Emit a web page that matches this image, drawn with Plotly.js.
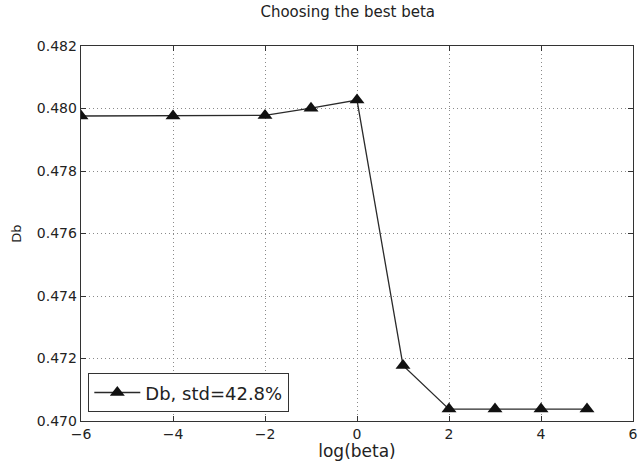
<!DOCTYPE html>
<html><head><meta charset="utf-8">
<script src="https://cdn.plot.ly/plotly-3.0.1.min.js"></script>
<style>html,body{margin:0;padding:0;background:#fff;}</style>
</head><body>
<div id="chart" style="width:638px;height:461px;"></div>
<script>
const logBeta = [-6, -4, -2, -1, 0, 1, 2, 3, 4, 5];
const dbValues = [0.47976, 0.47976, 0.47978, 0.48001, 0.48027, 0.47178, 0.47038, 0.47038, 0.47038, 0.47038];
const seriesName = 'Db, std=42.8%';
const xTicks = [-6, -4, -2, 0, 2, 4, 6];
const yTicks = [0.470, 0.472, 0.474, 0.476, 0.478, 0.480, 0.482];

const trace = {
  x: logBeta, y: dbValues, type: 'scatter', mode: 'lines+markers', name: seriesName,
  line: {color: '#2a2a2a', width: 1.3},
  marker: {symbol: 'triangle-up', size: 13, color: '#111'}
};
const fam = 'DejaVu Sans, sans-serif';
const axisCommon = {
  showline: true, linecolor: '#333', linewidth: 1.3, mirror: 'ticks',
  ticks: 'inside', ticklen: 5, tickcolor: '#333',
  showgrid: true, gridcolor: '#8a8a8a', griddash: '1px,3px', gridwidth: 1,
  zeroline: false, tickfont: {family: fam, size: 14, color: '#222'}
};
const layout = {
  width: 638, height: 461,
  margin: {l: 81, r: 5, t: 46, b: 40},
  paper_bgcolor: '#fff', plot_bgcolor: '#fff',
  font: {family: fam, color: '#222'},
  title: {text: 'Choosing the best beta', font: {family: fam, size: 15, color: '#222'},
    x: 0.545, xanchor: 'center', y: 0.985, yanchor: 'top'},
  xaxis: Object.assign({}, axisCommon, {
    range: [-6, 6], tickvals: xTicks, ticktext: xTicks.map(v => v < 0 ? '\u2212' + Math.abs(v) : String(v)),
    title: {text: 'log(beta)', font: {family: fam, size: 17, color: '#222'}, standoff: 2}
  }),
  yaxis: Object.assign({}, axisCommon, {
    range: [0.470, 0.482], tickvals: yTicks, ticktext: yTicks.map(v => v.toFixed(3)),
    title: {text: 'Db', font: {family: fam, size: 13, color: '#222'}, standoff: 12}
  }),
  showlegend: true,
  legend: {x: 0.0127, y: 0.024, xanchor: 'left', yanchor: 'bottom', bgcolor: '#fff',
    bordercolor: '#333', borderwidth: 1.3, itemwidth: 46,
    font: {family: fam, size: 18, color: '#222'}}
};
Plotly.newPlot('chart', [trace], layout, {displayModeBar: false, staticPlot: true});
</script>
</body></html>
